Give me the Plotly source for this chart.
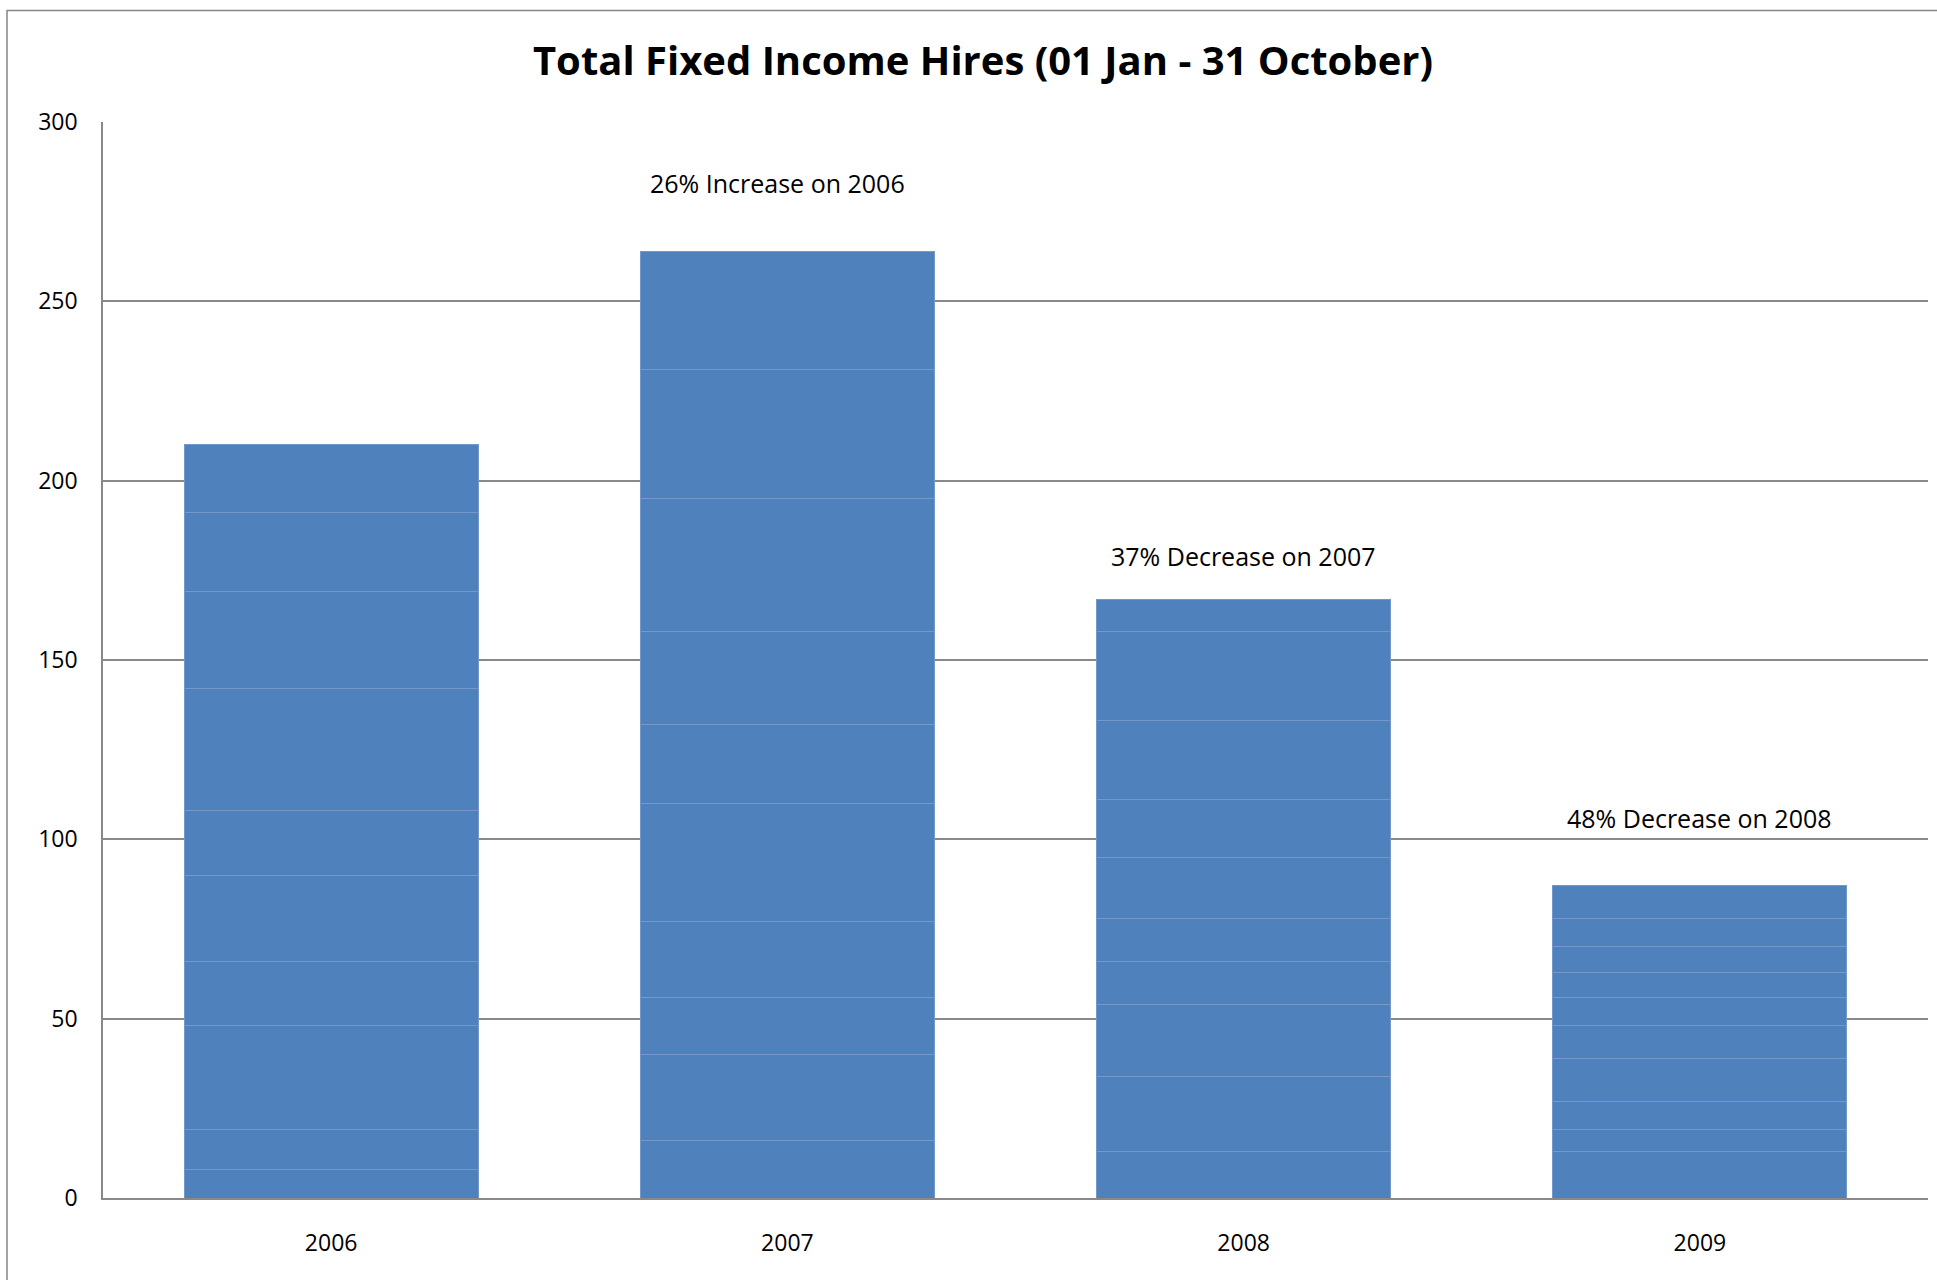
import plotly.graph_objects as go

years = ["2006", "2007", "2008", "2009"]
months = ["Jan", "Feb", "Mar", "Apr", "May", "Jun", "Jul", "Aug", "Sep", "Oct"]
# monthly hires per year (segments stacked bottom to top)
hires = {
    "2006": [8, 11, 29, 18, 24, 18, 34, 27, 22, 19],
    "2007": [16, 24, 16, 21, 33, 22, 26, 37, 36, 33],
    "2008": [13, 21, 20, 12, 12, 17, 16, 22, 25, 9],
    "2009": [13, 6, 8, 12, 9, 8, 7, 7, 8, 9],
}
change_labels = ["", "26% Increase on 2006", "37% Decrease on 2007", "48% Decrease on 2008"]
label_y = [None, 283, 179, 106]
label_xshift = [0, -10, 0, 0]
y_ticks = [0, 50, 100, 150, 200, 250, 300]

FONT = "Open Sans"
BAR = "#4F81BD"
GRID = "#898989"

fig = go.Figure()
for i, m in enumerate(months):
    fig.add_trace(go.Bar(
        x=years,
        y=[hires[yr][i] for yr in years],
        name=m,
        marker=dict(color=BAR, line=dict(color="#7399CC", width=1)),
        showlegend=False,
    ))

for idx, (txt, ly, xs) in enumerate(zip(change_labels, label_y, label_xshift)):
    if txt:
        fig.add_annotation(x=idx, y=ly, text=txt, showarrow=False, xshift=xs,
                           font=dict(family=FONT, size=25, color="#000000"))

# outer chart frame
fig.add_shape(type="rect", xref="paper", yref="paper",
              x0=-0.0526, x1=1.3, y0=-0.3, y1=1.1036,
              line=dict(color="#868686", width=1.5), fillcolor="rgba(0,0,0,0)", layer="below")

fig.update_layout(
    width=1937, height=1280,
    margin=dict(l=103, r=9, t=122, b=82),
    paper_bgcolor="white", plot_bgcolor="white",
    barmode="stack", bargap=0.356,
    title=dict(text="<b>Total Fixed Income Hires (01 Jan - 31 October)</b>",
               x=983 / 1937, xref="container", xanchor="center", y=1 - 60.5 / 1280, yanchor="middle",
               font=dict(family=FONT, size=40, color="#000000")),
    font=dict(family=FONT, size=23, color="#000000"),
)
fig.update_xaxes(type="category", range=[-0.5, 3.5], autorange=False,
                 showgrid=False, showline=True, linecolor=GRID, linewidth=1.5,
                 ticks="", tickfont=dict(family=FONT, size=23), ticklabelstandoff=24)
fig.update_yaxes(range=[0, 300], autorange=False, tickvals=y_ticks, showgrid=True, gridcolor=GRID, gridwidth=1.5,
                 showline=True, linecolor=GRID, linewidth=1.5, zeroline=False,
                 ticks="", tickfont=dict(family=FONT, size=23), ticklabelstandoff=19)

fig.write_html("out.html")
